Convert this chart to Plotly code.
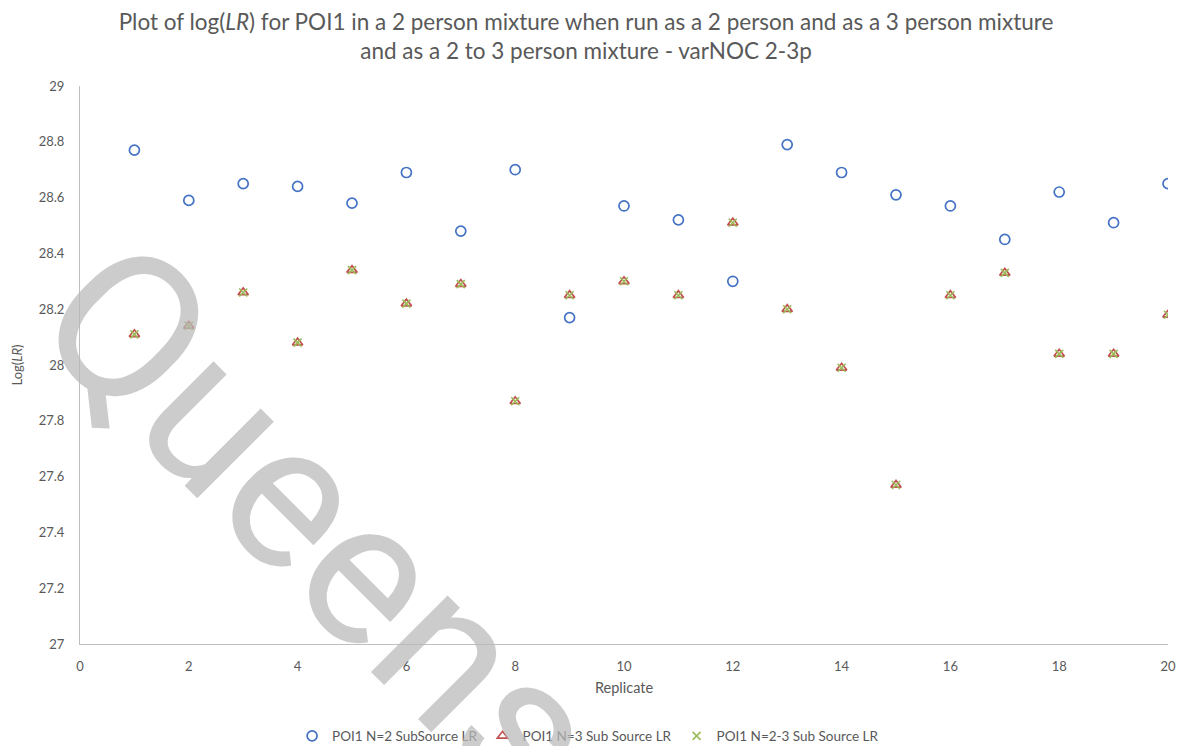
import plotly.graph_objects as go

replicates = list(range(1, 21))
n2_subsource = [28.77, 28.59, 28.65, 28.64, 28.58, 28.69, 28.48, 28.70, 28.17, 28.57,
                28.52, 28.30, 28.79, 28.69, 28.61, 28.57, 28.45, 28.62, 28.51, 28.65]
n3_subsource = [28.11, 28.14, 28.26, 28.08, 28.34, 28.22, 28.29, 27.87, 28.25, 28.30,
                28.25, 28.51, 28.20, 27.99, 27.57, 28.25, 28.33, 28.04, 28.04, 28.18]
n23_subsource = [28.11, 28.14, 28.26, 28.08, 28.34, 28.22, 28.29, 27.87, 28.25, 28.30,
                 28.25, 28.51, 28.20, 27.99, 27.57, 28.25, 28.33, 28.04, 28.04, 28.18]

FONT = "Lato"
TXT = "#595959"

fig = go.Figure()
fig.add_trace(go.Scatter(
    x=replicates, y=n2_subsource, mode="markers", name="POI1 N=2 SubSource LR",
    marker=dict(symbol="circle-open", size=10, color="#4472C4", line=dict(width=1.7, color="#4472C4"))))
fig.add_trace(go.Scatter(
    x=replicates, y=n3_subsource, mode="markers", name="POI1 N=3 Sub Source LR",
    marker=dict(symbol="triangle-up-open", size=9, color="#C0504D", line=dict(width=1.7, color="#C0504D"))))
fig.add_trace(go.Scatter(
    x=replicates, y=n23_subsource, mode="markers", name="POI1 N=2-3 Sub Source LR",
    marker=dict(symbol="x-thin-open", size=8, color="#9BBB59", line=dict(width=1.6, color="#9BBB59"))))

fig.update_layout(
    width=1178, height=738,
    paper_bgcolor="white", plot_bgcolor="white",
    margin=dict(l=72, r=18, t=78, b=102, autoexpand=False),
    font=dict(family=FONT, color=TXT, size=13),
    title=dict(
        text="Plot of log(<i>LR</i>) for POI1 in a 2 person mixture when run as a 2 person and as a 3 person mixture<br>and as a 2 to 3 person mixture - varNOC 2-3p",
        x=0.4907, xanchor="center", y=0.970, yanchor="top",
        font=dict(family=FONT, size=22.5, color=TXT)),
    xaxis=dict(range=[0, 20], dtick=2, tick0=0, showgrid=False, zeroline=False,
               showline=True, linecolor="#BFBFBF", linewidth=1, ticks="",
               ticklabelstandoff=10, automargin=False,
               tickfont=dict(size=13, color=TXT),
               title=dict(text="Replicate", font=dict(size=14.5, color=TXT), standoff=10)),
    yaxis=dict(range=[27, 29], dtick=0.2, tick0=27, showgrid=False, zeroline=False,
               showline=True, linecolor="#BFBFBF", linewidth=1, ticks="",
               ticklabelstandoff=12, automargin=False,
               tickfont=dict(size=13, color=TXT),
               title=dict(text="Log(<i>LR</i>)", font=dict(size=13, color=TXT), standoff=13)),
    legend=dict(orientation="h", x=0.467, xanchor="center", y=-0.165, yanchor="middle",
                font=dict(size=13.5, color=TXT), itemwidth=30),
    showlegend=True,
)

fig.add_annotation(
    text="Queens", xref="paper", yref="paper", x=0.2215, y=0.2168,
    xanchor="center", yanchor="middle",
    showarrow=False, textangle=45,
    font=dict(family="Roboto", size=205, color="rgba(185,185,185,0.72)"))

fig.write_html("out.html")
